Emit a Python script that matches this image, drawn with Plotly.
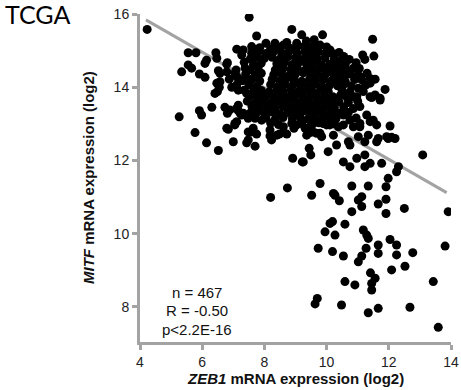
import plotly.graph_objects as go

# Sparse / edge points (ZEB1 log2, MITF log2)
zeb1_a = [4.23, 7.51, 8.88, 9.20, 7.75, 8.05, 8.34, 8.72, 9.04, 5.55, 5.80, 6.44, 7.11, 7.32, 7.62,
          6.14, 6.09, 6.47, 6.81, 5.55, 5.66, 5.34, 5.91, 6.09, 6.52, 6.57, 7.09, 7.11, 6.47, 6.55,
          6.49, 6.87, 6.95, 6.31, 5.91, 5.98, 5.26, 6.73, 6.81, 6.89, 7.16, 7.27, 7.54, 7.70, 6.79,
          6.79, 6.79, 6.57, 6.41, 7.05, 7.16, 7.11, 7.16, 7.38, 7.43, 7.43, 7.16, 7.22, 7.05, 6.84,
          5.77, 6.14, 6.52, 7.00, 7.48, 7.48, 7.05, 7.59, 7.43, 7.70, 7.75, 8.18, 8.23, 8.48, 8.61,
          8.72, 8.88, 9.04, 8.95, 9.31, 9.47, 9.36, 9.68, 9.44, 9.49, 8.91, 9.22, 8.74, 8.20, 9.52,
          9.79, 9.73, 9.57, 9.89, 10.22, 10.54, 10.86, 11.07, 11.40, 11.61, 12.04, 9.84, 10.22, 10.32, 10.70,
          10.75, 11.02, 11.34, 11.23, 11.61, 11.66, 11.98, 12.20, 9.25, 10.05, 10.54, 10.75, 10.97, 11.23, 11.23,
          11.40, 11.77, 12.31, 12.25, 11.98, 13.09, 10.22, 10.27, 10.41, 10.81, 11.34, 11.91, 11.13, 11.02, 11.13,
          10.81, 11.66, 11.91, 11.91, 12.50, 13.91, 10.11, 10.19, 9.95, 10.27, 10.59, 11.18, 11.29, 11.34, 10.19,
          10.54, 11.13, 11.27, 11.66, 11.66, 12.04, 12.25, 12.25, 12.77, 13.81, 10.59, 10.91, 11.45, 11.56, 11.45,
          12.09, 12.52, 13.43, 11.02, 11.41, 9.70, 9.63, 10.48, 11.34, 11.66, 12.68, 13.59, 9.87, 11.48, 9.57,
          9.79, 9.73, 9.95, 9.41, 10.11, 10.22, 11.16, 11.23, 11.52, 10.73, 10.41, 9.84, 9.52, 10.16, 10.49,
          10.86, 10.65, 10.32, 11.13, 11.40, 11.56, 11.88, 11.40, 11.56, 11.72, 11.02, 10.86, 11.07, 11.29, 10.27,
          10.54, 10.75, 10.38, 10.16, 11.07, 11.40, 11.72, 11.45, 11.18, 10.97, 10.86, 11.50, 11.93, 12.09, 11.07,
          9.09, 8.61, 7.59, 7.27, 7.59, 7.11, 7.32, 7.48, 7.91, 7.11, 7.64, 8.18, 8.61, 8.40, 9.47,
          9.79, 10.00]
mitf_a = [15.58, 15.91, 15.58, 15.43, 15.40, 15.20, 15.20, 15.22, 15.20, 14.94, 14.94, 14.94, 15.04, 15.02, 15.06,
          14.74, 14.65, 14.79, 14.67, 14.61, 14.52, 14.42, 14.36, 14.27, 14.45, 14.38, 14.47, 14.29, 14.11, 14.00,
          13.88, 14.22, 14.00, 13.45, 13.36, 13.24, 13.19, 13.45, 13.29, 13.38, 13.36, 13.24, 13.29, 13.15, 12.88,
          14.42, 14.63, 14.15, 13.83, 14.38, 14.24, 14.06, 13.92, 14.52, 14.20, 13.83, 13.51, 13.29, 13.01, 12.85,
          12.76, 12.48, 12.27, 12.51, 12.78, 12.56, 12.97, 12.78, 12.48, 12.39, 12.72, 12.67, 12.56, 12.72, 12.78,
          12.72, 13.01, 12.97, 12.88, 12.88, 12.76, 12.69, 12.74, 12.33, 12.15, 12.06, 11.96, 11.25, 10.99, 11.05,
          11.37, 9.60, 12.78, 13.01, 13.01, 12.97, 12.92, 13.01, 13.06, 12.97, 12.94, 12.65, 12.69, 12.42, 12.51,
          12.42, 12.65, 12.69, 12.51, 12.51, 12.60, 12.60, 12.60, 11.96, 12.24, 11.96, 11.83, 12.06, 12.15, 11.83,
          11.92, 11.92, 11.83, 11.69, 11.51, 12.15, 11.10, 11.05, 10.90, 11.30, 11.30, 11.28, 11.01, 10.92, 10.74,
          10.60, 10.81, 10.94, 10.55, 10.69, 10.60, 10.28, 10.33, 10.05, 9.96, 10.26, 10.10, 9.96, 9.87, 9.51,
          9.39, 9.39, 9.60, 9.69, 9.46, 9.84, 9.69, 9.42, 9.48, 9.66, 8.69, 8.60, 8.64, 8.78, 8.46,
          9.01, 9.11, 8.69, 9.23, 8.93, 8.23, 8.08, 8.05, 7.84, 7.96, 7.99, 7.44, 15.43, 15.31, 15.13,
          15.15, 14.97, 14.93, 14.88, 15.02, 14.91, 14.88, 14.76, 14.85, 14.76, 14.70, 14.61, 14.52, 14.52, 14.47,
          14.52, 14.38, 14.29, 14.20, 14.24, 14.22, 13.94, 13.74, 13.79, 13.70, 13.97, 13.74, 13.47, 13.24, 13.65,
          13.24, 13.10, 12.92, 14.93, 14.29, 14.11, 13.65, 13.72, 13.88, 13.74, 13.42, 13.10, 12.65, 12.63, 12.92,
          15.13, 15.15, 15.11, 14.88, 14.93, 13.42, 13.29, 13.15, 13.10, 13.06, 12.88, 12.83, 12.92, 12.69, 12.92,
          12.74, 12.97]

# Dense core of the cloud
zeb1_b = [9.35, 9.60,
          7.85, 8.20, 8.45, 8.85, 9.30, 9.50, 10.00,
          7.80, 8.05, 8.30, 8.55, 8.80, 9.05, 9.30, 9.55, 10.40,
          7.55, 7.75, 8.00, 8.25, 8.50, 8.75, 9.00, 9.20, 9.45, 9.70, 9.95, 10.25, 10.55,
          7.35, 7.65, 7.90, 8.40, 8.65, 8.90, 9.10, 9.35, 9.60, 10.10, 10.35, 10.60, 10.95,
          7.55, 7.80, 8.35, 8.60, 8.85, 9.05, 9.30, 9.75, 10.00, 10.30, 10.60, 11.05,
          7.40, 7.70, 7.90, 8.30, 8.55, 8.80, 9.00, 9.25, 9.50, 9.70, 9.95, 10.20, 10.45, 10.75, 11.00, 11.30,
          7.30, 7.60, 7.85, 8.25, 8.50, 8.70, 8.95, 9.20, 9.45, 9.65, 9.90, 10.15, 10.40, 10.60, 10.90,
          7.50, 7.75, 8.20, 8.45, 8.65, 8.90, 9.15, 9.40, 9.60, 9.85, 10.10, 10.35, 10.55, 10.80, 11.25,
          7.35, 7.65, 7.90, 8.15, 8.40, 8.60, 8.85, 9.10, 9.30, 9.55, 9.80, 10.05, 10.50, 10.75,
          7.55, 7.80, 8.05, 8.30, 8.55, 8.80, 9.00, 9.25, 9.50, 9.70, 9.95, 10.20, 10.45, 10.65,
          7.45, 7.70, 7.95, 8.20, 8.45, 8.70, 8.95, 9.15, 9.40, 9.65, 9.90, 10.10, 10.40, 10.70, 11.00,
          7.60, 7.85, 8.10, 8.35, 8.60, 8.85, 9.10, 9.30, 9.55, 9.80, 10.00, 10.25, 10.55,
          7.75, 8.00, 8.25, 8.50, 8.75, 9.00, 9.20, 9.45, 9.70, 9.90, 10.15, 10.40, 10.70,
          8.05, 8.35, 8.60, 8.90, 9.15, 9.40, 9.60, 9.85, 10.10, 10.30, 10.95,
          8.20, 8.45, 9.20, 9.55, 9.75, 10.10]
mitf_b = [15.26, 15.30,
          15.08, 15.05, 15.10, 15.06, 15.12, 15.02, 15.10,
          14.97, 14.92, 14.98, 14.94, 14.99, 14.93, 14.97, 14.90, 14.95,
          14.78, 14.83, 14.79, 14.82, 14.77, 14.83, 14.80, 14.76, 14.82, 14.78, 14.80, 14.77, 14.84,
          14.68, 14.63, 14.66, 14.64, 14.68, 14.62, 14.67, 14.64, 14.69, 14.63, 14.66, 14.62, 14.67,
          14.48, 14.53, 14.47, 14.51, 14.49, 14.54, 14.46, 14.50, 14.47, 14.53, 14.49, 14.51,
          14.37, 14.33, 14.38, 14.34, 14.37, 14.32, 14.36, 14.39, 14.33, 14.36, 14.34, 14.38, 14.32, 14.36, 14.33, 14.38,
          14.18, 14.22, 14.17, 14.21, 14.18, 14.23, 14.19, 14.16, 14.21, 14.18, 14.22, 14.17, 14.20, 14.16, 14.21,
          14.06, 14.02, 14.07, 14.03, 14.08, 14.04, 14.06, 14.02, 14.07, 14.03, 14.06, 14.04, 14.08, 14.03, 14.05,
          13.92, 13.88, 13.91, 13.87, 13.92, 13.89, 13.93, 13.88, 13.91, 13.86, 13.92, 13.89, 13.91, 13.87,
          13.77, 13.73, 13.76, 13.72, 13.77, 13.74, 13.78, 13.73, 13.76, 13.72, 13.77, 13.74, 13.78, 13.73,
          13.62, 13.58, 13.61, 13.57, 13.62, 13.59, 13.63, 13.58, 13.61, 13.57, 13.62, 13.59, 13.60, 13.58, 13.62,
          13.47, 13.43, 13.46, 13.42, 13.47, 13.44, 13.48, 13.43, 13.46, 13.42, 13.47, 13.44, 13.46,
          13.31, 13.28, 13.32, 13.27, 13.31, 13.29, 13.33, 13.28, 13.31, 13.27, 13.32, 13.29, 13.31,
          13.16, 13.13, 13.17, 13.14, 13.18, 13.13, 13.16, 13.12, 13.17, 13.14, 13.16,
          13.02, 12.98, 13.01, 12.99, 13.03, 12.97]

zeb1 = zeb1_a + zeb1_b
mitf = mitf_a + mitf_b

# Regression line end points
fit_x = [4.19, 13.86]
fit_y = [15.84, 11.12]

stats_lines = ["n = 467", "R = -0.50", "p<2.2E-16"]
x_ticks = [4, 6, 8, 10, 12, 14]
y_ticks = [8, 10, 12, 14, 16]

GRAY = "#a3a3a3"

fig = go.Figure()
fig.add_trace(go.Scatter(x=fit_x, y=fit_y, mode="lines",
                         line=dict(color=GRAY, width=3), hoverinfo="skip"))
fig.add_trace(go.Scatter(x=zeb1, y=mitf, mode="markers",
                         marker=dict(color="black", size=9, line=dict(width=0))))

axis_common = dict(showline=True, linecolor=GRAY, linewidth=3, ticks="outside",
                   ticklen=5, tickwidth=3, tickcolor=GRAY, showgrid=False, zeroline=False,
                   automargin=False,
                   tickfont=dict(family="Liberation Sans, Arial", size=14, color="#222"))

L, R, T, B = 140, 451, 14, 342
W, H = 461, 390

fig.update_layout(
    width=W, height=H,
    margin=dict(l=L, r=W - R, t=T, b=H - B, autoexpand=False),
    paper_bgcolor="white", plot_bgcolor="white",
    showlegend=False,
    xaxis=dict(range=[4, 14], tickvals=x_ticks, **axis_common),
    yaxis=dict(range=[7.04, 16], tickvals=y_ticks, **axis_common),
    font=dict(family="Liberation Sans, Arial", color="black"),
)

annos = []
annos.append(dict(text="TCGA", x=3, y=14, showarrow=False,
                  xanchor="left", yanchor="middle",
                  font=dict(family="Lato", size=25, color="black")))
for i, t in enumerate(stats_lines):
    annos.append(dict(text=t, x=197, y=292 + 18.5 * i, showarrow=False,
                      xanchor="center", yanchor="middle",
                      font=dict(family="Liberation Sans, Arial", size=15, color="#111")))
annos.append(dict(text="<b><i>ZEB1</i> mRNA expression (log2)</b>", x=295, y=378,
                  showarrow=False, xanchor="center", yanchor="middle",
                  font=dict(family="Liberation Sans, Arial", size=15, color="#111")))
annos.append(dict(text="<b><i>MITF</i> mRNA expression (log2)</b>", x=88, y=178,
                  showarrow=False, xanchor="center", yanchor="middle", textangle=-90,
                  font=dict(family="Liberation Sans, Arial", size=15, color="#111")))

# convert pixel placements into paper coordinates
for a in annos:
    px, py = a["x"], a["y"]
    a["x"] = (px - L) / (R - L)
    a["y"] = (B - py) / (B - T)
    a["xref"] = "paper"
    a["yref"] = "paper"
fig.update_layout(annotations=annos)

fig.write_html("out.html", config={"displayModeBar": False},
               post_script="document.body.style.margin='0';document.body.style.overflow='hidden';")
